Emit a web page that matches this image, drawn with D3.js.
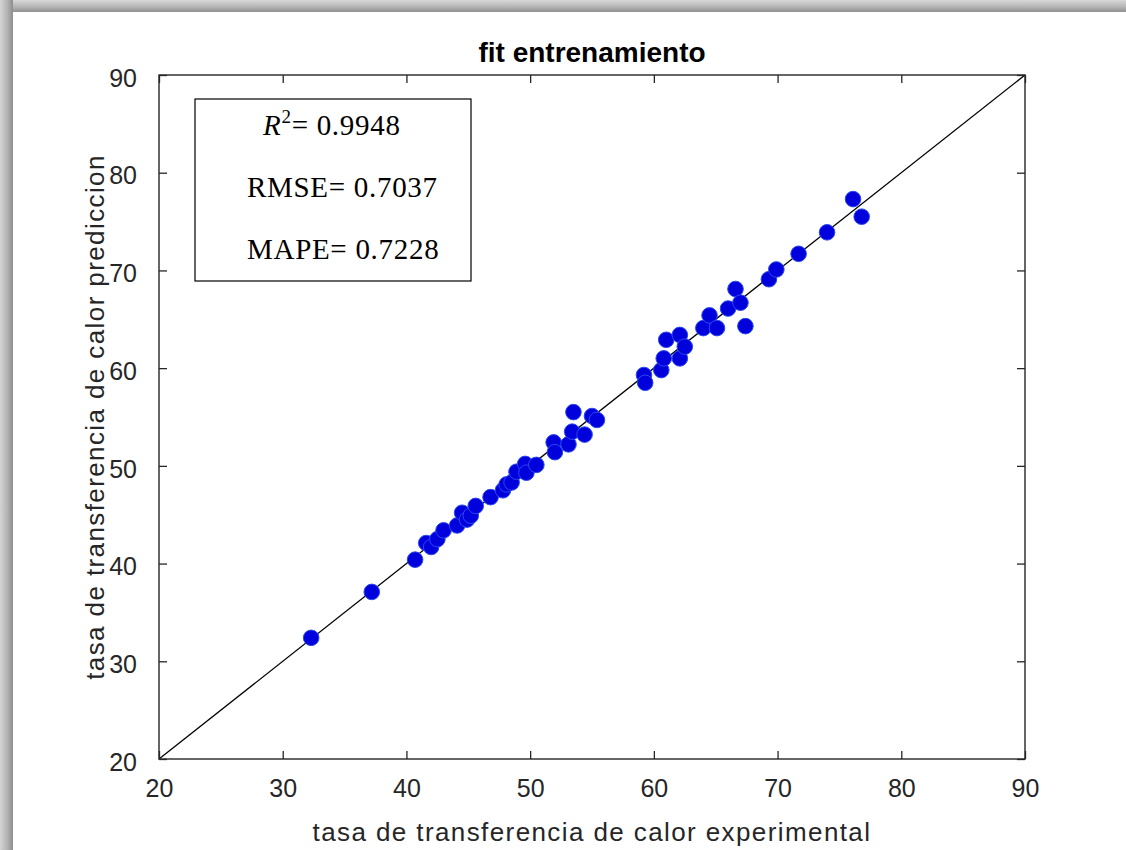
<!DOCTYPE html>
<html>
<head>
<meta charset="utf-8">
<script src="https://cdn.jsdelivr.net/npm/d3@7"></script>
<style>
  html, body { margin: 0; padding: 0; background: #ffffff; }
  svg { display: block; }
</style>
</head>
<body>
<script>
// Training fit: experimental vs predicted heat transfer rate
const experimental = [32.3, 37.2, 40.7, 41.6, 42.0, 42.5, 43.0, 44.1, 44.5, 44.9, 45.2, 45.6,
  46.8, 47.8, 48.1, 48.5, 48.9, 49.6, 49.7, 50.5, 51.9, 52.0, 53.1, 53.4, 53.5, 54.4, 55.0, 55.4,
  59.2, 59.3, 60.6, 60.8, 61.0, 62.1, 62.1, 62.5, 64.0, 64.5, 65.1, 66.0, 66.6, 67.0, 67.4,
  69.3, 69.9, 71.7, 74.0, 76.1, 76.8];
const prediccion = [32.4, 37.1, 40.4, 42.1, 41.7, 42.5, 43.4, 43.9, 45.2, 44.5, 44.9, 45.9,
  46.8, 47.5, 48.1, 48.3, 49.4, 50.2, 49.3, 50.1, 52.4, 51.4, 52.2, 53.5, 55.5, 53.2, 55.1, 54.7,
  59.3, 58.5, 59.8, 61.0, 62.9, 61.0, 63.4, 62.2, 64.1, 65.4, 64.1, 66.1, 68.1, 66.7, 64.3,
  69.1, 70.1, 71.7, 73.9, 77.3, 75.5];

const axisDomain = [20, 90];
const xTicks = [20, 30, 40, 50, 60, 70, 80, 90];
const yTicks = [20, 30, 40, 50, 60, 70, 80, 90];

const titleText = "fit entrenamiento";
const xLabelText = "tasa de transferencia de calor experimental";
const yLabelText = "tasa de transferencia de calor prediccion";

const statLabels = ["R", "RMSE", "MAPE"];
const statValues = ["0.9948", "0.7037", "0.7228"];

const W = 1126, H = 850;
const plot = { left: 159, right: 1025, top: 75, bottom: 759 };
const axisColor = "#262626";
const sans = "'Liberation Sans', Arial, Helvetica, sans-serif";
const serif = "'Liberation Serif', 'Times New Roman', serif";

const svg = d3.select("body").append("svg")
  .attr("width", W).attr("height", H);

const defs = svg.append("defs");
const gLeft = defs.append("linearGradient").attr("id", "frameLeft")
  .attr("x1", "0").attr("x2", "1").attr("y1", "0").attr("y2", "0");
gLeft.append("stop").attr("offset", "0").attr("stop-color", "#d4d4d4");
gLeft.append("stop").attr("offset", "0.55").attr("stop-color", "#b4b4b4");
gLeft.append("stop").attr("offset", "1").attr("stop-color", "#8e8e8e");
const gTop = defs.append("linearGradient").attr("id", "frameTop")
  .attr("x1", "0").attr("x2", "0").attr("y1", "0").attr("y2", "1");
gTop.append("stop").attr("offset", "0").attr("stop-color", "#d8d8d8");
gTop.append("stop").attr("offset", "0.55").attr("stop-color", "#b6b6b6");
gTop.append("stop").attr("offset", "1").attr("stop-color", "#909090");

svg.append("rect").attr("width", W).attr("height", H).attr("fill", "#ffffff");
// window frame edges
svg.append("rect").attr("x", 0).attr("y", 0).attr("width", W).attr("height", 12).attr("fill", "url(#frameTop)");
svg.append("rect").attr("x", 0).attr("y", 0).attr("width", 13).attr("height", H).attr("fill", "url(#frameLeft)");

const x = d3.scaleLinear().domain(axisDomain).range([plot.left, plot.right]);
const y = d3.scaleLinear().domain(axisDomain).range([plot.bottom, plot.top]);

// identity line y = x
svg.append("line")
  .attr("x1", x(axisDomain[0])).attr("y1", y(axisDomain[0]))
  .attr("x2", x(axisDomain[1])).attr("y2", y(axisDomain[1]))
  .attr("stroke", "#000").attr("stroke-width", 1.3);

// scatter points
svg.append("g").selectAll("circle")
  .data(experimental.map((v, i) => [v, prediccion[i]]))
  .join("circle")
  .attr("cx", d => x(d[0]))
  .attr("cy", d => y(d[1]))
  .attr("r", 7.8)
  .attr("fill", "#0000dc")
  .attr("stroke", "#2a48f0")
  .attr("stroke-width", 1);

// axes with inward ticks on all four sides
const tickLen = 8;
function styleAxis(g) {
  g.select(".domain").remove();
  g.selectAll(".tick line").attr("stroke", axisColor).attr("stroke-width", 1.3);
  g.selectAll(".tick text").attr("fill", axisColor)
    .style("font-family", sans).style("font-size", "25px");
}
svg.append("g").attr("transform", `translate(0,${plot.bottom})`)
  .call(d3.axisBottom(x).tickValues(xTicks).tickSize(-tickLen).tickPadding(20).tickFormat(d3.format("d")))
  .call(styleAxis);
svg.append("g").attr("transform", `translate(0,${plot.top})`)
  .call(d3.axisTop(x).tickValues(xTicks).tickSize(-tickLen).tickFormat(""))
  .call(styleAxis);
svg.append("g").attr("transform", `translate(${plot.left},0)`)
  .call(d3.axisLeft(y).tickValues(yTicks).tickSize(-tickLen).tickPadding(22).tickFormat(d3.format("d")))
  .call(styleAxis)
  .selectAll(".tick text").attr("dy", "0.45em");
svg.append("g").attr("transform", `translate(${plot.right},0)`)
  .call(d3.axisRight(y).tickValues(yTicks).tickSize(-tickLen).tickFormat(""))
  .call(styleAxis);

// axes box
svg.append("rect")
  .attr("x", plot.left).attr("y", plot.top)
  .attr("width", plot.right - plot.left).attr("height", plot.bottom - plot.top)
  .attr("fill", "none").attr("stroke", axisColor).attr("stroke-width", 1.4);

// title and axis labels
svg.append("text")
  .attr("x", (plot.left + plot.right) / 2).attr("y", 62)
  .attr("text-anchor", "middle")
  .style("font-family", sans).style("font-size", "28px").style("font-weight", "bold")
  .attr("fill", "#000")
  .text(titleText);

svg.append("text")
  .attr("x", (plot.left + plot.right) / 2).attr("y", 841)
  .attr("text-anchor", "middle")
  .style("font-family", sans).style("font-size", "26px").style("letter-spacing", "1.4px")
  .attr("fill", axisColor)
  .text(xLabelText);

svg.append("text")
  .attr("transform", `translate(104,${(plot.top + plot.bottom) / 2}) rotate(-90)`)
  .attr("text-anchor", "middle")
  .style("font-family", sans).style("font-size", "26px").style("letter-spacing", "1.4px")
  .attr("fill", axisColor)
  .text(yLabelText);

// statistics box
svg.append("rect")
  .attr("x", 195).attr("y", 99).attr("width", 276).attr("height", 182)
  .attr("fill", "#ffffff").attr("stroke", "#000").attr("stroke-width", 1.2);

const statBaselines = [135, 197, 259];
statLabels.forEach((lab, i) => {
  const t = svg.append("text")
    .attr("x", 247).attr("y", statBaselines[i])
    .style("font-family", serif).style("font-size", "29px").style("letter-spacing", "0.7px")
    .attr("fill", "#000");
  if (i === 0) {
    t.attr("x", 263);
    t.append("tspan").style("font-style", "italic").text(lab);
    t.append("tspan").attr("dy", -12).style("font-size", "19px").text("2");
    t.append("tspan").attr("dy", 12).text("= " + statValues[i]);
  } else {
    t.text(lab + "= " + statValues[i]);
  }
});
</script>
</body>
</html>
